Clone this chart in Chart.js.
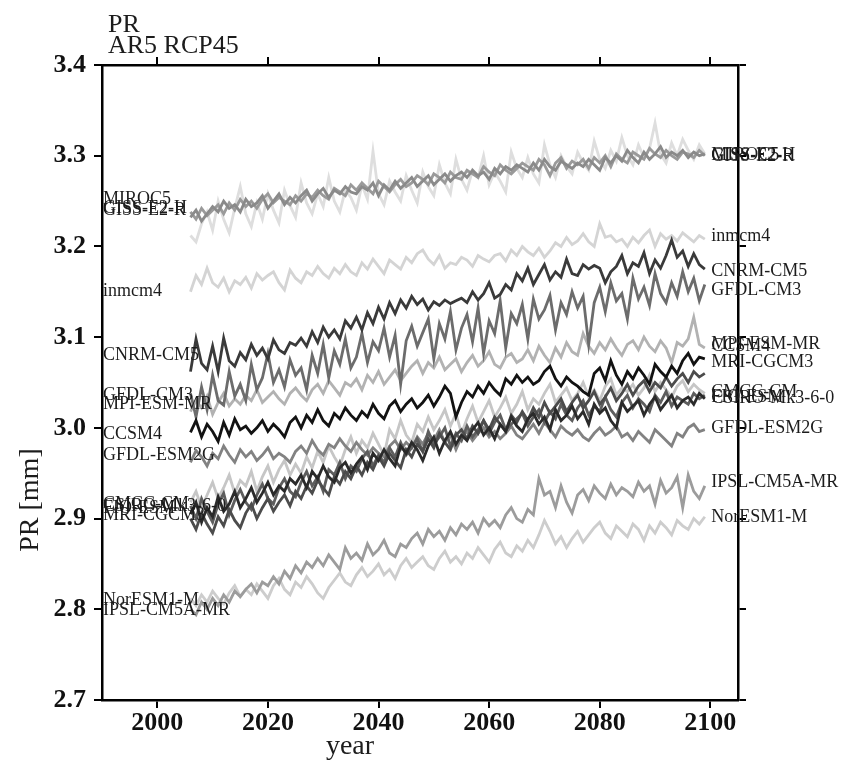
<!DOCTYPE html>
<html>
<head>
<meta charset="utf-8">
<script src="https://cdn.jsdelivr.net/npm/chart.js@4.4.1/dist/chart.umd.min.js"></script>
<style>
html,body{margin:0;padding:0;background:#fff;}
canvas{display:block;}
</style>
</head>
<body>
<canvas id="c" width="846" height="760"></canvas>
<script>
// ---- data ----
const startYear = 2006, endYear = 2099;
const years = [];
for (let y = startYear; y <= endYear; y++) years.push(y);

const xTickValues = [2000, 2020, 2040, 2060, 2080, 2100];
const yTickValues = [2.7, 2.8, 2.9, 3.0, 3.1, 3.2, 3.3, 3.4];

const models = ["CCSM4","CSIRO-Mk3-6-0","CNRM-CM5","MRI-CGCM3","FIO-ESM","GFDL-CM3","GFDL-ESM2G","GISS-E2-H","GISS-E2-R","IPSL-CM5A-MR","MPI-ESM-MR","CMCC-CM","NorESM1-M","inmcm4","MIROC5"];

const leftLabelValues  = [2.993, 2.914, 3.080, 2.904, 2.911, 3.036, 2.970, 3.242, 3.240, 2.799, 3.026, 2.916, 2.810, 3.151, 3.252];
const rightLabelValues = [3.090, 3.033, 3.173, 3.072, 3.034, 3.152, 2.999, 3.300, 3.299, 2.940, 3.092, 3.039, 2.901, 3.211, 3.300];

const CCSM4 = [2.995,3.008,2.990,3.004,2.996,2.985,3.006,2.992,3.010,2.998,
3.002,2.994,3.000,3.008,2.996,3.004,2.998,2.990,3.006,3.012,
3.000,3.014,3.006,3.020,3.008,3.002,3.016,3.010,3.022,3.014,
3.008,3.018,3.012,3.026,3.016,3.010,3.024,3.030,3.018,3.026,
3.032,3.022,3.028,3.036,3.024,3.034,3.046,3.038,3.012,3.028,
3.040,3.034,3.046,3.038,3.050,3.042,3.036,3.054,3.048,3.058,
3.050,3.056,3.048,3.052,3.062,3.068,3.054,3.046,3.056,3.050,
3.046,3.040,3.036,3.060,3.066,3.052,3.074,3.058,3.048,3.062,
3.054,3.066,3.058,3.048,3.070,3.062,3.056,3.068,3.060,3.074,
3.082,3.070,3.078,3.076];

const CSIRO = [2.905,2.918,2.896,2.912,2.902,2.924,2.908,2.916,2.930,2.912,
2.922,2.934,2.918,2.928,2.940,2.926,2.936,2.930,2.944,2.938,
2.948,2.934,2.952,2.944,2.958,2.946,2.940,2.956,2.962,2.950,
2.960,2.968,2.954,2.972,2.964,2.976,2.966,2.958,2.980,2.972,
2.984,2.976,2.964,2.980,2.990,2.972,2.986,2.996,2.982,2.992,
2.986,2.998,3.006,2.992,3.000,2.988,3.004,2.996,3.012,3.002,
2.996,3.010,3.016,3.004,3.012,2.998,3.020,3.008,3.014,3.024,
3.010,3.018,3.004,3.026,3.016,3.022,3.008,3.000,3.028,3.018,
3.024,3.030,3.014,3.026,3.034,3.020,3.028,3.036,3.022,3.030,
3.034,3.026,3.038,3.032];

const CNRM = [3.062,3.098,3.071,3.064,3.090,3.062,3.099,3.074,3.068,3.083,
3.075,3.092,3.080,3.088,3.076,3.097,3.086,3.082,3.094,3.091,
3.099,3.090,3.106,3.094,3.111,3.100,3.108,3.098,3.118,3.110,
3.122,3.108,3.127,3.115,3.133,3.120,3.138,3.126,3.141,3.132,
3.145,3.136,3.142,3.130,3.139,3.135,3.141,3.137,3.140,3.143,
3.138,3.150,3.141,3.148,3.160,3.143,3.147,3.158,3.152,3.170,
3.162,3.176,3.158,3.169,3.180,3.163,3.172,3.166,3.186,3.170,
3.168,3.180,3.175,3.179,3.176,3.160,3.172,3.178,3.190,3.170,
3.182,3.178,3.193,3.170,3.185,3.176,3.190,3.207,3.188,3.195,
3.178,3.192,3.180,3.175];

const MRI = [2.900,2.888,2.906,2.894,2.884,2.902,2.892,2.910,2.898,2.890,
2.906,2.916,2.900,2.912,2.922,2.908,2.918,2.926,2.914,2.930,
2.922,2.936,2.928,2.942,2.934,2.926,2.946,2.938,2.952,2.944,
2.958,2.948,2.962,2.954,2.968,2.958,2.972,2.964,2.956,2.976,
2.968,2.982,2.974,2.988,2.978,2.994,2.984,2.976,2.992,2.998,
2.988,3.002,2.994,3.008,2.998,3.012,3.004,2.996,3.014,3.006,
3.018,3.008,3.022,3.012,3.028,3.016,3.024,3.032,3.018,3.028,
3.036,3.022,3.030,3.040,3.026,3.034,3.044,3.030,3.038,3.048,
3.036,3.046,3.052,3.040,3.050,3.044,3.056,3.046,3.054,3.060,
3.050,3.062,3.056,3.060];

const FIO = [2.914,2.900,2.922,2.908,2.896,2.916,2.928,2.904,2.920,2.932,
2.918,2.910,2.926,2.938,2.922,2.916,2.934,2.944,2.930,2.924,
2.940,2.952,2.936,2.946,2.930,2.954,2.948,2.962,2.944,2.958,
2.952,2.966,2.974,2.958,2.970,2.962,2.978,2.968,2.984,2.970,
2.978,2.988,2.974,2.996,2.982,2.990,3.000,2.980,2.994,2.986,
3.002,2.990,2.998,3.008,2.994,3.006,3.014,2.998,3.004,3.010,
3.016,3.002,3.012,3.020,3.006,3.018,3.010,3.026,3.014,3.008,
3.022,3.030,3.014,3.024,3.018,3.034,3.020,3.012,3.028,3.036,
3.022,3.032,3.026,3.018,3.036,3.028,3.040,3.024,3.034,3.030,
3.026,3.038,3.032,3.036];

const GFDLCM3 = [3.038,3.012,3.045,3.020,3.058,3.030,3.025,3.062,3.035,3.048,
3.030,3.070,3.042,3.055,3.082,3.050,3.064,3.045,3.075,3.058,
3.066,3.042,3.080,3.060,3.092,3.055,3.085,3.070,3.098,3.066,
3.078,3.104,3.072,3.095,3.085,3.110,3.078,3.102,3.048,3.096,
3.112,3.090,3.105,3.120,3.076,3.115,3.098,3.128,3.086,3.110,
3.125,3.095,3.132,3.082,3.118,3.104,3.140,3.088,3.126,3.115,
3.136,3.098,3.142,3.120,3.130,3.146,3.108,3.138,3.125,3.150,
3.132,3.145,3.092,3.138,3.155,3.128,3.160,3.140,3.148,3.120,
3.165,3.142,3.155,3.135,3.170,3.148,3.138,3.160,3.145,3.172,
3.150,3.165,3.140,3.158];

const GFDLESM2G = [2.962,2.975,2.968,2.958,2.972,2.966,2.980,2.970,2.962,2.976,
2.968,2.974,2.964,2.970,2.978,2.966,2.972,2.968,2.962,2.974,
2.980,2.972,2.986,2.976,2.970,2.982,2.978,2.988,2.980,2.974,
2.984,2.976,2.970,2.978,2.972,2.968,2.980,2.986,2.976,2.984,
2.978,2.990,2.982,2.994,2.986,2.998,2.984,2.992,2.976,2.990,
2.996,2.986,2.994,3.000,2.990,2.996,2.988,2.994,3.002,2.992,
2.988,2.996,3.004,2.994,3.006,2.998,2.990,3.002,2.996,2.992,
2.998,2.990,2.986,2.994,3.000,2.992,2.996,3.002,2.990,2.994,
2.986,2.996,2.990,2.984,2.998,2.992,2.986,2.980,2.994,2.990,
3.000,3.004,2.996,2.998];

const GISSH = [3.232,3.240,3.228,3.236,3.244,3.238,3.250,3.242,3.246,3.238,
3.252,3.244,3.248,3.256,3.242,3.250,3.258,3.246,3.254,3.248,
3.256,3.262,3.250,3.258,3.264,3.254,3.262,3.258,3.266,3.260,
3.258,3.266,3.262,3.270,3.256,3.268,3.262,3.272,3.264,3.270,
3.276,3.266,3.272,3.278,3.268,3.274,3.280,3.272,3.278,3.282,
3.276,3.284,3.278,3.282,3.274,3.286,3.280,3.288,3.284,3.290,
3.286,3.282,3.292,3.284,3.296,3.288,3.284,3.294,3.290,3.286,
3.292,3.288,3.296,3.290,3.284,3.298,3.292,3.300,3.294,3.306,
3.298,3.292,3.304,3.296,3.302,3.310,3.298,3.304,3.300,3.306,
3.298,3.304,3.300,3.302];

const GISSR = [3.238,3.230,3.242,3.234,3.240,3.246,3.236,3.248,3.240,3.252,
3.244,3.250,3.242,3.252,3.258,3.248,3.254,3.250,3.246,3.256,
3.250,3.258,3.254,3.262,3.256,3.252,3.264,3.260,3.256,3.268,
3.262,3.270,3.264,3.258,3.272,3.266,3.260,3.268,3.274,3.266,
3.270,3.278,3.274,3.268,3.280,3.276,3.270,3.282,3.276,3.274,
3.284,3.280,3.276,3.288,3.282,3.278,3.290,3.284,3.280,3.286,
3.292,3.288,3.284,3.296,3.290,3.278,3.292,3.298,3.286,3.294,
3.290,3.296,3.286,3.298,3.292,3.300,3.288,3.302,3.296,3.292,
3.304,3.300,3.296,3.308,3.302,3.298,3.306,3.300,3.296,3.304,
3.302,3.298,3.306,3.300];

const IPSL = [2.800,2.794,2.808,2.800,2.812,2.804,2.816,2.808,2.820,2.814,
2.822,2.828,2.818,2.830,2.826,2.836,2.828,2.842,2.834,2.848,
2.840,2.852,2.846,2.856,2.848,2.860,2.852,2.844,2.868,2.856,
2.862,2.854,2.872,2.860,2.866,2.876,2.862,2.858,2.872,2.868,
2.878,2.884,2.872,2.888,2.880,2.886,2.876,2.890,2.882,2.894,
2.888,2.896,2.884,2.900,2.892,2.898,2.890,2.904,2.912,2.900,
2.896,2.910,2.904,2.944,2.926,2.930,2.912,2.936,2.918,2.906,
2.926,2.932,2.920,2.936,2.928,2.922,2.938,2.926,2.934,2.930,
2.924,2.940,2.930,2.936,2.916,2.942,2.928,2.934,2.946,2.912,
2.948,2.930,2.922,2.936];

const MPI = [3.018,3.030,3.022,3.035,3.015,3.028,3.038,3.024,3.032,3.026,
3.036,3.030,3.042,3.028,3.034,3.040,3.032,3.026,3.038,3.044,
3.036,3.030,3.042,3.048,3.038,3.052,3.044,3.036,3.050,3.046,
3.054,3.042,3.058,3.050,3.062,3.048,3.056,3.064,3.052,3.060,
3.068,3.074,3.060,3.072,3.066,3.078,3.064,3.070,3.076,3.062,
3.072,3.080,3.068,3.074,3.084,3.070,3.066,3.078,3.082,3.072,
3.076,3.086,3.074,3.090,3.080,3.072,3.088,3.078,3.094,3.084,
3.080,3.104,3.090,3.082,3.094,3.086,3.098,3.088,3.080,3.092,
3.096,3.086,3.100,3.090,3.084,3.096,3.088,3.072,3.094,3.090,
3.098,3.122,3.092,3.088];

const CMCC = [2.918,2.930,2.912,2.926,2.940,2.922,2.934,2.948,2.928,2.942,
2.936,2.952,2.930,2.946,2.958,2.940,2.954,2.964,2.948,2.960,
2.950,2.968,2.956,2.974,2.962,2.980,2.968,2.958,2.976,2.990,
2.972,2.986,2.978,2.994,2.982,2.970,2.998,2.988,3.008,2.992,
2.984,3.004,2.996,3.012,2.998,3.008,3.020,3.002,3.016,2.994,
3.010,3.024,3.006,3.018,3.030,3.012,3.022,3.034,3.016,3.026,
3.040,3.020,3.032,3.026,3.038,3.048,3.028,3.036,3.044,3.030,
3.038,3.050,3.034,3.042,3.030,3.046,3.054,3.036,3.044,3.040,
3.048,3.036,3.044,3.058,3.040,3.050,3.042,3.034,3.046,3.052,
3.040,3.048,3.042,3.038];

const NorESM = [2.812,2.804,2.816,2.808,2.820,2.812,2.806,2.818,2.826,2.814,
2.822,2.816,2.828,2.820,2.812,2.826,2.834,2.822,2.816,2.830,
2.824,2.836,2.828,2.818,2.812,2.824,2.832,2.840,2.830,2.826,
2.838,2.846,2.836,2.842,2.850,2.838,2.844,2.834,2.848,2.856,
2.846,2.852,2.858,2.848,2.844,2.856,2.864,2.852,2.858,2.850,
2.862,2.856,2.868,2.860,2.852,2.866,2.874,2.862,2.858,2.870,
2.864,2.876,2.868,2.882,2.898,2.886,2.872,2.880,2.868,2.878,
2.886,2.874,2.882,2.890,2.896,2.884,2.878,2.892,2.886,2.880,
2.894,2.888,2.876,2.892,2.884,2.896,2.890,2.882,2.898,2.892,
2.888,2.900,2.894,2.902];

const INMCM4 = [3.150,3.168,3.158,3.176,3.160,3.155,3.165,3.150,3.162,3.158,
3.166,3.154,3.170,3.163,3.168,3.172,3.160,3.152,3.174,3.165,
3.160,3.172,3.168,3.178,3.170,3.165,3.176,3.170,3.180,3.172,
3.168,3.182,3.175,3.186,3.178,3.170,3.185,3.180,3.175,3.188,
3.182,3.192,3.196,3.186,3.180,3.190,3.176,3.182,3.180,3.188,
3.185,3.178,3.190,3.186,3.183,3.190,3.192,3.184,3.196,3.190,
3.200,3.194,3.190,3.198,3.188,3.195,3.204,3.200,3.210,3.202,
3.206,3.214,3.205,3.200,3.225,3.210,3.212,3.205,3.208,3.200,
3.210,3.204,3.212,3.218,3.200,3.214,3.208,3.212,3.206,3.215,
3.210,3.205,3.212,3.208];

const MIROC5 = [3.212,3.205,3.225,3.238,3.218,3.250,3.230,3.215,3.242,3.266,
3.236,3.222,3.248,3.230,3.258,3.240,3.226,3.262,3.245,3.232,
3.270,3.248,3.236,3.258,3.244,3.276,3.250,3.238,3.262,3.254,
3.240,3.268,3.252,3.305,3.258,3.246,3.272,3.260,3.250,3.278,
3.262,3.248,3.282,3.266,3.256,3.290,3.270,3.258,3.296,3.274,
3.262,3.284,3.276,3.300,3.268,3.282,3.272,3.260,3.304,3.286,
3.276,3.298,3.280,3.270,3.312,3.290,3.276,3.300,3.288,3.280,
3.304,3.292,3.284,3.316,3.296,3.286,3.306,3.294,3.320,3.300,
3.290,3.312,3.298,3.308,3.336,3.302,3.292,3.314,3.300,3.318,
3.306,3.296,3.312,3.302];

const seriesValues = [CCSM4, CSIRO, CNRM, MRI, FIO, GFDLCM3, GFDLESM2G, GISSH, GISSR, IPSL, MPI, CMCC, NorESM, INMCM4, MIROC5];
const seriesColors = ["#121212","#2a2a2a","#3a3a3a","#4c4c4c","#5e5e5e","#6c6c6c","#828282","#8a8a8a","#9a9a9a","#9c9c9c","#b2b2b2","#c6c6c6","#cdcdcd","#d4d4d4","#dedede"];

// ---- chart ----
const SERIF = "'Liberation Serif', 'Times New Roman', serif";

const labelPlugin = {
  id: 'labels',
  afterDatasetsDraw(chart) {
    const c = chart.ctx, xs = chart.scales.x, ys = chart.scales.y;
    c.save();
    c.font = "18px " + SERIF;
    c.fillStyle = "#1c1c1c";
    c.textBaseline = "middle";
    c.textAlign = "left";
    const lx = xs.getPixelForValue(1990) + 1;
    const rx = xs.getPixelForValue(2100) + 1;
    for (let i = 0; i < models.length; i++) {
      c.fillText(models[i], lx, ys.getPixelForValue(leftLabelValues[i]));
      c.fillText(models[i], rx, ys.getPixelForValue(rightLabelValues[i]));
    }
    c.restore();
  },
  afterDraw(chart) {
    const c = chart.ctx;
    c.save();
    c.fillStyle = "#1c1c1c";
    c.textAlign = "left";
    c.textBaseline = "alphabetic";
    c.font = "26px " + SERIF;
    c.fillText("PR", 108, 32);
    c.fillText("AR5 RCP45", 108, 53);
    c.font = "28px " + SERIF;
    c.textAlign = "center";
    c.fillText("year", 350, 754);
    c.translate(38, 500);
    c.rotate(-Math.PI / 2);
    c.fillText("PR [mm]", 0, 0);
    c.restore();
  }
};

const axisCommon = (pos, isX, showLabels, size) => ({
  type: 'linear',
  position: pos,
  min: isX ? 1990 : 2.7,
  max: isX ? 2105 : 3.4,
  afterBuildTicks: s => { s.ticks = (isX ? xTickValues : yTickValues).map(v => ({ value: v })); },
  afterFit: s => { if (isX) s.height = size; else s.width = size; },
  border: { display: true, color: '#000', width: 2.5 },
  grid: { display: true, drawOnChartArea: false, drawTicks: true, tickLength: 8, color: '#000', lineWidth: 2 },
  ticks: {
    display: showLabels,
    color: '#111',
    font: { family: SERIF, size: 26, weight: 'bold' },
    padding: isX ? 0 : 8,
    maxRotation: 0,
    autoSkip: false,
    callback: v => isX ? String(v) : Number(v).toFixed(1)
  }
});

new Chart(document.getElementById('c'), {
  type: 'line',
  data: {
    datasets: models.map((m, i) => ({
      label: m,
      data: years.map((yr, j) => ({ x: yr, y: seriesValues[i][j] })),
      borderColor: seriesColors[i],
      backgroundColor: seriesColors[i],
      borderWidth: 2.8,
      pointRadius: 0,
      tension: 0,
      fill: false,
      xAxisID: 'x',
      yAxisID: 'y'
    }))
  },
  options: {
    responsive: false,
    animation: false,
    layout: { padding: 0 },
    plugins: { legend: { display: false }, tooltip: { enabled: false }, title: { display: false } },
    scales: {
      x: axisCommon('bottom', true, true, 60),
      x2: axisCommon('top', true, false, 65),
      y: axisCommon('left', false, true, 102),
      y2: axisCommon('right', false, false, 108)
    }
  },
  plugins: [labelPlugin]
});
</script>
</body>
</html>
